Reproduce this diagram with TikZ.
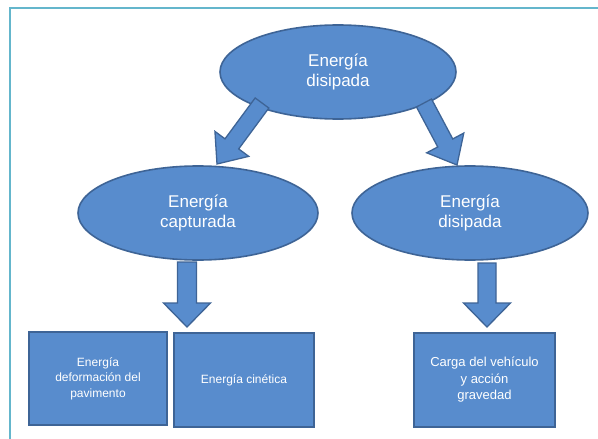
\documentclass[tikz,border=0pt]{standalone}
\usepackage{fontspec}
\setmainfont{Liberation Sans}
\usetikzlibrary{shapes.geometric,calc,shadows}
\definecolor{fillblue}{RGB}{88,140,205}
\definecolor{edgeblue}{RGB}{62,100,150}
\definecolor{frameteal}{RGB}{100,182,204}
\tikzset{
  ell/.style={ellipse,fill=fillblue,draw=edgeblue,line width=1.6pt,inner sep=0pt,
    text=white,align=center,font=\fontsize{17}{20.5}\selectfont},
  boxn/.style={rectangle,fill=fillblue,draw=edgeblue,line width=1.4pt,inner sep=0pt,
    text=white,align=center,
    drop shadow={shadow xshift=1.2pt,shadow yshift=-1.2pt,opacity=.35,fill=black}},
  barr/.style={fill=fillblue,draw=edgeblue,line width=1.3pt,line join=miter},
  framel/.style={draw=frameteal,line width=2.4pt}
}
\newcommand{\blockarr}[5]{%
  \filldraw[barr]
    ($(#1)!#3!90:(#2)$) --
    ($(#2)!#5!(#1)!#3!-90:(#1)$) --
    ($(#2)!#5!(#1)!#4!-90:(#1)$) --
    (#2) --
    ($(#2)!#5!(#1)!#4!90:(#1)$) --
    ($(#2)!#5!(#1)!#3!90:(#1)$) --
    ($(#1)!#3!-90:(#2)$) -- cycle;}
\begin{document}
\begin{tikzpicture}[x=1pt,y=-1pt]
  \useasboundingbox[fill=white] (0,0) rectangle (598,439);
  % frame
  \coordinate (f0) at (10,8);
  \coordinate (f1) at (10,439);
  \coordinate (f2) at (598,8);
  \draw[framel] (f1) -- (f0) -- (f2);
  % nodes
  \node[ell,minimum width=236pt,minimum height=94pt] (top) at (338,72) {Energía\\disipada};
  \node[ell,minimum width=240pt,minimum height=94pt] (left) at (198,213) {Energía\\capturada};
  \node[ell,minimum width=236pt,minimum height=94pt] (right) at (470,213) {Energía\\disipada};
  \node[boxn,minimum width=138pt,minimum height=93pt,font=\fontsize{12}{15.5}\selectfont] (b1) at (98,378.5) {Energía\\deformación del\\pavimento};
  \node[boxn,minimum width=140pt,minimum height=94pt,font=\fontsize{12}{15.5}\selectfont] (b2) at (244,380) {Energía cinética};
  \node[boxn,minimum width=141pt,minimum height=94pt,font=\fontsize{13}{16.5}\selectfont] (b3) at (484.5,380) {Carga del vehículo\\y acción\\gravedad};
  % arrow end points
  \coordinate (a1s) at (262,103);
  \coordinate (a1t) at (217,164);
  \coordinate (a2s) at (424,103);
  \coordinate (a2t) at (457,165);
  \coordinate (a3s) at (187,262);
  \coordinate (a3t) at (187,327);
  \coordinate (a4s) at (487,263);
  \coordinate (a4t) at (487,327);
  \blockarr{a1s}{a1t}{8.5pt}{21pt}{25pt}
  \blockarr{a2s}{a2t}{8.5pt}{21pt}{25pt}
  \blockarr{a3s}{a3t}{9.5pt}{23.5pt}{24pt}
  \blockarr{a4s}{a4t}{9pt}{23.5pt}{24pt}
\end{tikzpicture}
\end{document}
